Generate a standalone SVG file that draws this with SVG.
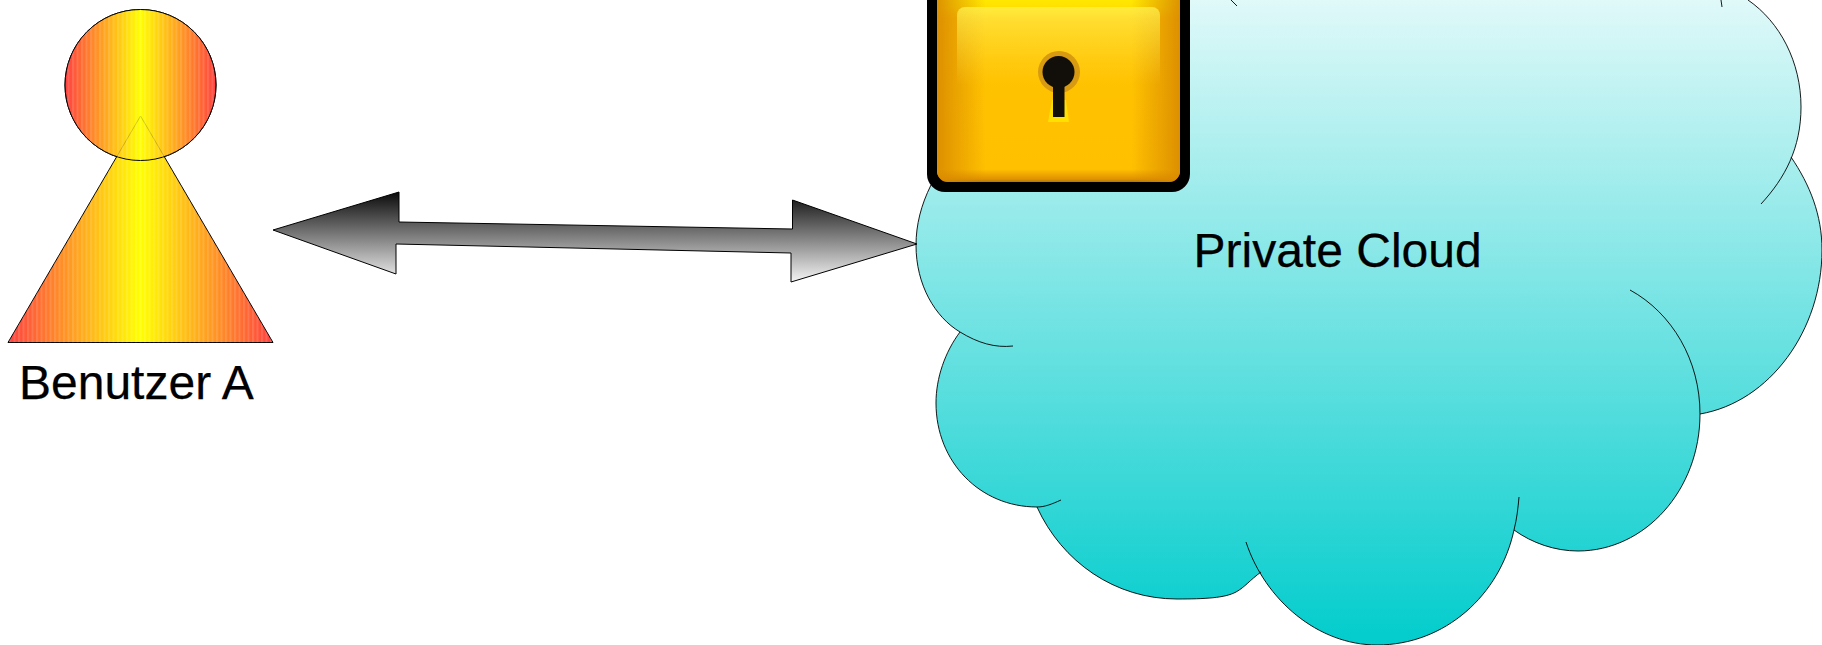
<svg xmlns="http://www.w3.org/2000/svg" xmlns:xlink="http://www.w3.org/1999/xlink" width="1822" height="645" viewBox="0 0 1822 645">
<style>
text{font-family:"Liberation Sans",Arial,sans-serif;font-size:48px;fill:#000;stroke:#000;stroke-width:.25}
.edge{stroke:#000;stroke-width:1;stroke-linejoin:miter}
.line{fill:none;stroke:#000;stroke-width:.9}
.fillonly{fill:url(#cloudFill);stroke:none}
.bands{fill:url(#bands);stroke:none}
</style>
<defs>
<linearGradient id="person" x1="0" y1="0" x2="1" y2="0">
<stop offset="0" stop-color="#ff4040"/><stop offset=".5" stop-color="#ffff00"/><stop offset="1" stop-color="#ff4040"/>
</linearGradient>
<pattern id="bands" patternUnits="userSpaceOnUse" width="4.500" height="10">
<rect width="2" height="10" fill="#fff" fill-opacity=".13"/>
</pattern>
<linearGradient id="cloudFill" gradientUnits="userSpaceOnUse" x1="0" y1="-90" x2="0" y2="650">
<stop offset="0" stop-color="#fff"/><stop offset="1" stop-color="#00cccc"/>
</linearGradient>
<linearGradient id="arrowFill" gradientUnits="userSpaceOnUse" x1="0" y1="192" x2="0" y2="282">
<stop offset="0" stop-color="#0a0a0a"/><stop offset="1" stop-color="#f5f5f5"/>
</linearGradient>
<linearGradient id="lockH" gradientUnits="userSpaceOnUse" x1="937" y1="0" x2="1180" y2="0">
<stop offset="0" stop-color="#d98a00" stop-opacity=".9"/><stop offset=".2" stop-color="#d98a00" stop-opacity="0"/><stop offset=".8" stop-color="#d98a00" stop-opacity="0"/><stop offset="1" stop-color="#d98a00" stop-opacity=".9"/>
</linearGradient>
<linearGradient id="lockV" gradientUnits="userSpaceOnUse" x1="0" y1="0" x2="0" y2="182">
<stop offset="0" stop-color="#ffe800"/><stop offset=".04" stop-color="#ffe000"/><stop offset=".1" stop-color="#ffc400"/><stop offset=".93" stop-color="#ffc000"/><stop offset=".985" stop-color="#e09000"/><stop offset="1" stop-color="#a87a10"/>
</linearGradient>
<linearGradient id="lockShine" gradientUnits="userSpaceOnUse" x1="0" y1="7" x2="0" y2="85">
<stop offset="0" stop-color="#fff050" stop-opacity=".75"/><stop offset="1" stop-color="#ffe040" stop-opacity="0"/>
</linearGradient>
<path id="l1" d="M931,185C921,205 916,225 916,245C916,285 935,317 960,332C978,343 995,348 1013,346"/>
<path id="l2" d="M960,332C945,352 936,378 936,403C936,462 980,507 1037,507C1045,507 1052,504 1061,500"/>
<path id="l3" d="M1037,507C1062,562 1115,599 1177,599C1205,599 1225,598 1236,592C1245,587 1250,580 1261,572"/>
<path id="l4" d="M1246,542C1265,600 1318,645 1377,645C1445,645 1500,595 1514,530C1517,518 1518,508 1519,497"/>
<path id="l5" d="M1514,530C1532,543 1555,551 1578,551C1645,551 1700,490 1700,414C1700,360 1672,313 1630,290"/>
<path id="l6" d="M1700,414C1770,402 1822,330 1822,250C1822,215 1810,185 1791,157"/>
<path id="l7" d="M1748,0C1780,22 1801,62 1801,107C1801,148 1785,178 1761,204"/>
<circle id="headShape" cx="140.500" cy="85" r="75.500"/>
<path id="bodyShape" d="M140.500,116L273,342.500H8Z"/>
</defs>
<g id="person-a">
<use xlink:href="#headShape" fill="url(#person)" class="edge"/>
<use xlink:href="#bodyShape" fill="url(#person)" class="edge"/>
<use xlink:href="#bodyShape" class="bands"/>
<use xlink:href="#headShape" fill="url(#person)" fill-opacity=".8" class="edge"/>
<use xlink:href="#headShape" class="bands"/>
<text x="19" y="399">Benutzer A</text>
</g>
<g id="private-cloud">
<g class="fillonly">
<path d="M1000,0H1748L1791,157L1760,300L1700,414L1514,530L1261,572L1150,570L1037,507L960,332L931,185Z"/>
<use xlink:href="#l1"/><use xlink:href="#l2"/><use xlink:href="#l3"/><use xlink:href="#l4"/><use xlink:href="#l5"/><use xlink:href="#l6"/><use xlink:href="#l7"/>
</g>
<g class="line">
<use xlink:href="#l1"/><use xlink:href="#l2"/><use xlink:href="#l3"/><use xlink:href="#l4"/><use xlink:href="#l5"/><use xlink:href="#l6"/><use xlink:href="#l7"/>
<path d="M1721,0L1722,7M1231,0L1237,6"/>
</g>
<text x="1193.500" y="267">Private Cloud</text>
</g>
<g id="connectors">
<path class="edge" fill="url(#arrowFill)" d="M273,230L399,192V222L792.500,229V200L917,244L791,282V253L396,244V274Z"/>
</g>
<g id="lock">
<rect x="927" y="-30" width="263" height="222" rx="18" fill="#000"/>
<rect x="937" y="-30" width="243" height="212" rx="11" fill="url(#lockV)"/>
<rect x="937" y="-30" width="243" height="212" rx="11" fill="url(#lockH)"/>
<rect x="957" y="7" width="203" height="90" rx="8" fill="url(#lockShine)"/>
<circle cx="1059" cy="72" r="21" fill="#d89a10"/>
<path d="M1048,122L1052,100H1066L1069,122Z" fill="#ffe000"/>
<circle cx="1058.500" cy="72" r="16" fill="#120f0a"/>
<rect x="1053" y="76" width="11.500" height="41" fill="#120f0a"/>
</g>
</svg>
